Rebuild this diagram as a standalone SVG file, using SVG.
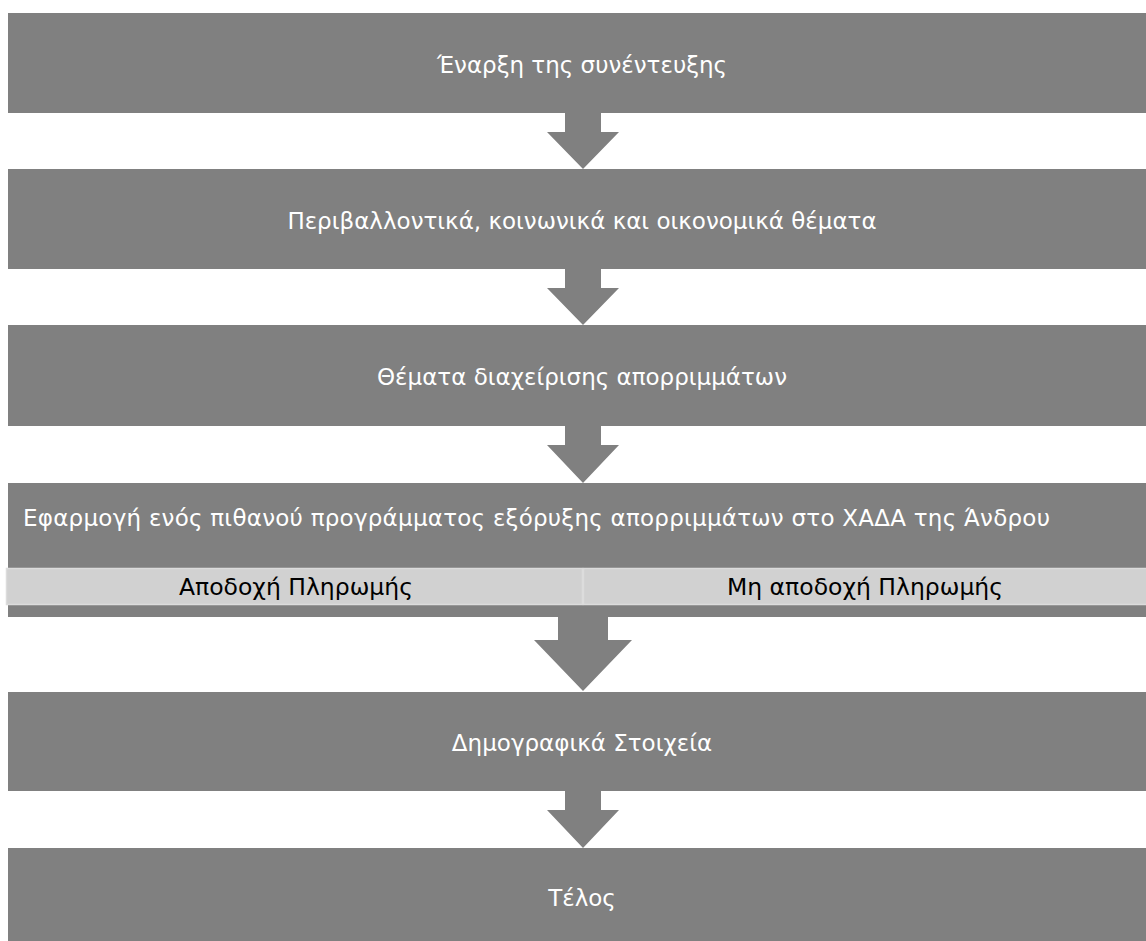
<svg xmlns="http://www.w3.org/2000/svg" width="1146" height="941" viewBox="0 0 1146 941">
<style>
.box{fill:#808080}
.bar{fill:#d1d1d1;stroke:#dcdcdc;stroke-width:1.5}
.arrow{fill:#808080}
.t{font-family:"DejaVu Sans","Liberation Sans",sans-serif;font-size:23px;fill:#ffffff}
.tc{text-anchor:middle}
.tb{font-family:"DejaVu Sans","Liberation Sans",sans-serif;font-size:23.5px;fill:#000000;text-anchor:middle}
</style>
<rect width="1146" height="941" fill="#ffffff"/>
<g id="connectors">
<polygon class="arrow" points="565,110 601,110 601,132 619,132 583,169 547,132 565,132"/>
<polygon class="arrow" points="565,266 601,266 601,288 619,288 583,325 547,288 565,288"/>
<polygon class="arrow" points="565,423 601,423 601,445 619,445 583,483 547,445 565,445"/>
<polygon class="arrow" points="558,613 608,613 608,640 632,640 583,691 534,640 558,640"/>
<polygon class="arrow" points="565,788 601,788 601,810 619,810 583,848 547,810 565,810"/>
</g>
<g id="node1">
<rect class="box" x="8" y="13" width="1150" height="100"/>
<text class="t tc" x="582" y="73">Έναρξη της συνέντευξης</text>
</g>
<g id="node2">
<rect class="box" x="8" y="169" width="1150" height="100"/>
<text class="t tc" x="582" y="229">Περιβαλλοντικά, κοινωνικά και οικονομικά θέματα</text>
</g>
<g id="node3">
<rect class="box" x="8" y="325" width="1150" height="101"/>
<text class="t tc" x="582" y="385">Θέματα διαχείρισης απορριμμάτων</text>
</g>
<g id="node4">
<rect class="box" x="8" y="483" width="1150" height="134"/>
<text class="t" x="23" y="526" textLength="1027" lengthAdjust="spacing">Εφαρμογή ενός πιθανού προγράμματος εξόρυξης απορριμμάτων στο ΧΑΔΑ της Άνδρου</text>
<g id="node4a">
<rect class="bar" x="6.5" y="568.5" width="576" height="36"/>
<text class="tb" x="296" y="595">Αποδοχή Πληρωμής</text>
</g>
<g id="node4b">
<rect class="bar" x="583.5" y="568.5" width="570" height="36"/>
<text class="tb" x="865" y="595">Μη αποδοχή Πληρωμής</text>
</g>
</g>
<g id="node5">
<rect class="box" x="8" y="692" width="1150" height="99"/>
<text class="t tc" x="582" y="751">Δημογραφικά Στοιχεία</text>
</g>
<g id="node6">
<rect class="box" x="8" y="848" width="1150" height="100"/>
<text class="t tc" x="582" y="906">Τέλος</text>
</g>
</svg>
